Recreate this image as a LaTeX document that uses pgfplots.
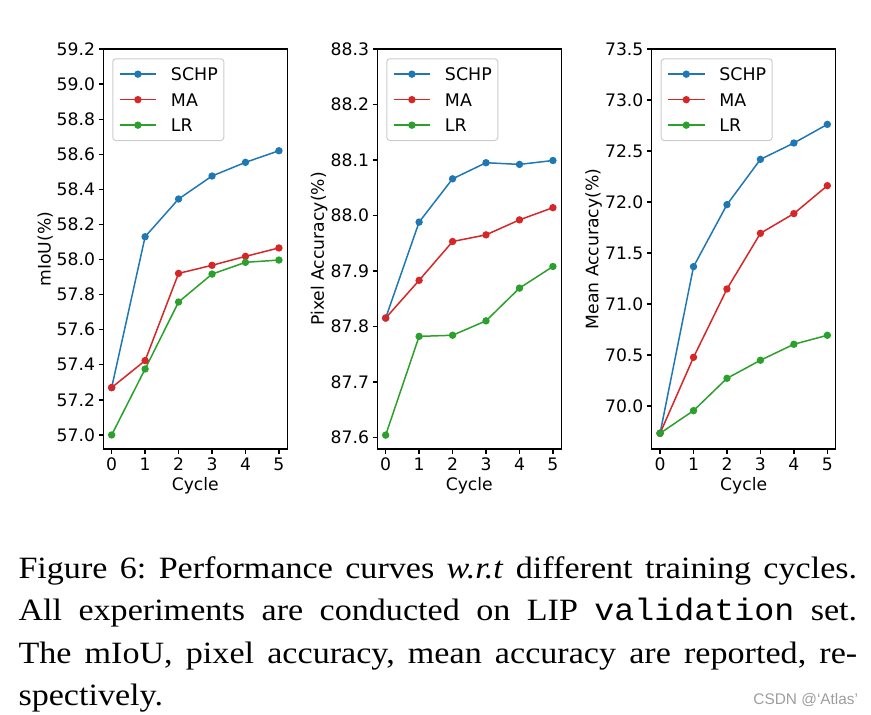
\documentclass[border=0pt]{standalone}
\usepackage{fontspec}
\setmainfont{DejaVu Sans}
\newfontfamily\capfont[FakeStretch=1.1]{Liberation Serif}
\newfontfamily\capmono[FakeStretch=1.075]{Liberation Mono}
\newfontfamily\wmfont{Liberation Sans}
\usepackage{pgfplots}
\pgfplotsset{compat=1.18}
\definecolor{c1}{HTML}{1F77B4}
\definecolor{c2}{HTML}{D62728}
\definecolor{c3}{HTML}{2CA02C}
\pgfplotsset{
  panel/.style={
    scale only axis, width=184pt, height=400pt,
    xmin=-0.25, xmax=5.25, xtick={0,1,2,3,4,5},
    tick pos=left, tick align=outside, major tick length=4.5pt,
    axis line style={line width=1.3pt},
    major tick style={black, line width=1.3pt},
    tick label style={font=\fontsize{17.2}{20}\selectfont},
    label style={font=\fontsize{17.2}{20}\selectfont},
    x tick label style={inner ysep=4.5pt},
    y tick label style={inner xsep=3.6pt},
    xlabel={Cycle},
    xlabel style={at={(axis description cs:0.5,-0.104)}, anchor=base},
    ylabel style={at={(axis description cs:-0.316,0.5)}, anchor=center},
    yticklabel style={/pgf/number format/.cd, fixed, fixed zerofill, precision=1},
    /pgf/number format/assume math mode=true,
    legend cell align=left,
    legend style={at={(axis description cs:0.0489,0.9767)}, anchor=north west,
      draw=black!20, line width=1pt, rounded corners=3pt, fill=white,
      inner xsep=6pt, inner ysep=2.6pt, row sep=0pt, column sep=14pt,
      font=\fontsize{17.4}{20}\selectfont,
      nodes={inner sep=0pt, text height=19.2pt, text depth=6.3pt}},
    legend image code/.code={\draw[mark repeat=2,mark phase=2] plot coordinates {(0pt,0pt) (18.35pt,0pt) (36.7pt,0pt)};},
  },
  schp/.style={color=c1, line width=1.5pt, mark=*, mark size=2.9pt, mark options={solid}},
  ma/.style={color=c2, line width=1.5pt, mark=*, mark size=2.9pt, mark options={solid}},
  lr/.style={color=c3, line width=1.5pt, mark=*, mark size=2.9pt, mark options={solid}},
}
\begin{document}
\frenchspacing
\begin{tikzpicture}
\path[use as bounding box] (0pt,0pt) rectangle (871pt,-715pt);

\begin{axis}[panel, at={(103.3pt,-49pt)}, anchor=north west,
  ymin=56.92, ymax=59.2,
  ytick={57.0,57.2,57.4,57.6,57.8,58.0,58.2,58.4,58.6,58.8,59.0,59.2},
  ylabel={mIoU(\%)}]
\addplot[schp] coordinates {(0,57.27) (1,58.13) (2,58.345) (3,58.476) (4,58.554) (5,58.62)};
\addlegendentry{SCHP}
\addplot[ma] coordinates {(0,57.27) (1,57.424) (2,57.921) (3,57.967) (4,58.018) (5,58.066)};
\addlegendentry{MA}
\addplot[lr] coordinates {(0,57.0) (1,57.376) (2,57.758) (3,57.917) (4,57.984) (5,57.997)};
\addlegendentry{LR}
\end{axis}

\begin{axis}[panel, at={(377.3pt,-49pt)}, anchor=north west,
  ymin=87.579, ymax=88.3,
  ytick={87.6,87.7,87.8,87.9,88.0,88.1,88.2,88.3},
  ylabel={Pixel Accuracy(\%)}]
\addplot[schp] coordinates {(0,87.815) (1,87.988) (2,88.066) (3,88.095) (4,88.092) (5,88.099)};
\addlegendentry{SCHP}
\addplot[ma] coordinates {(0,87.815) (1,87.883) (2,87.953) (3,87.965) (4,87.992) (5,88.014)};
\addlegendentry{MA}
\addplot[lr] coordinates {(0,87.604) (1,87.782) (2,87.784) (3,87.810) (4,87.869) (5,87.908)};
\addlegendentry{LR}
\end{axis}

\begin{axis}[panel, at={(651.7pt,-49pt)}, anchor=north west,
  ymin=69.578, ymax=73.5,
  ytick={70.0,70.5,71.0,71.5,72.0,72.5,73.0,73.5},
  ylabel={Mean Accuracy(\%)}]
\addplot[schp] coordinates {(0,69.732) (1,71.366) (2,71.974) (3,72.418) (4,72.578) (5,72.761)};
\addlegendentry{SCHP}
\addplot[ma] coordinates {(0,69.732) (1,70.477) (2,71.147) (3,71.693) (4,71.886) (5,72.160)};
\addlegendentry{MA}
\addplot[lr] coordinates {(0,69.732) (1,69.954) (2,70.271) (3,70.448) (4,70.605) (5,70.693)};
\addlegendentry{LR}
\end{axis}

\node[anchor=base west, inner sep=0pt] at (18.3pt,-578.3pt)
  {\capfont\frenchspacing\fontsize{31}{42}\selectfont\makebox[838.7pt][s]{Figure 6: Performance curves \textit{w.r.t} different training cycles.}};
\node[anchor=base west, inner sep=0pt] at (18.3pt,-620.8pt)
  {\capfont\frenchspacing\fontsize{31}{42}\selectfont\makebox[838.7pt][s]{All experiments are conducted on LIP {\capmono validation} set.}};
\node[anchor=base west, inner sep=0pt] at (18.3pt,-663.3pt)
  {\capfont\frenchspacing\fontsize{31}{42}\selectfont\makebox[838.7pt][s]{The mIoU, pixel accuracy, mean accuracy are reported, re-}};
\node[anchor=base west, inner sep=0pt] at (18.3pt,-705.5pt)
  {\capfont\frenchspacing\fontsize{31}{42}\selectfont spectively.};
\node[anchor=base east, inner sep=0pt, text=black!38] at (858.3pt,-704.3pt)
  {\wmfont\fontsize{15.4}{18}\selectfont CSDN @‘Atlas’};
\end{tikzpicture}
\end{document}
